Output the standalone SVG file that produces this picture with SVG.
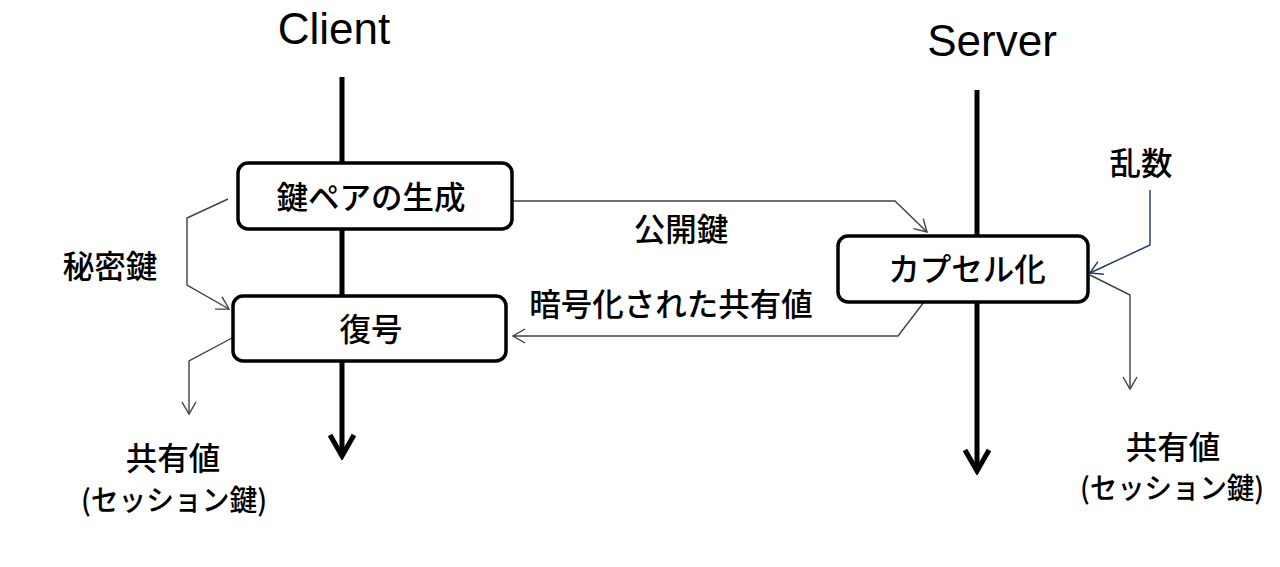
<svg xmlns="http://www.w3.org/2000/svg" width="1280" height="567" viewBox="0 0 1280 567">
  <defs>
    <style>
      .title { font-family: "Liberation Sans", Arial, sans-serif; font-size: 44px; fill: #000; text-anchor: middle; }
      .jp { font-family: "Noto Sans CJK JP", "Noto Sans", sans-serif; font-size: 31.5px; font-weight: 500; fill: #000; text-anchor: middle; }
      .jp2 { font-family: "Noto Sans CJK JP", "Noto Sans", sans-serif; font-size: 29px; font-weight: 500; fill: #000; text-anchor: middle; }
      .box { fill: #fff; stroke: #000; stroke-width: 3.5; }
      .life { fill: none; stroke: #000; stroke-width: 5; }
      .thin { fill: none; stroke: #404040; stroke-width: 1.4; }
      .navy { fill: none; stroke: #1f3864; stroke-width: 1.4; }
    </style>
    <marker id="thick" markerUnits="userSpaceOnUse" viewBox="-26 -16 30 32" markerWidth="30" markerHeight="32" refX="0" refY="0" orient="auto">
      <path d="M-21,-12 L0,0 L-21,12" fill="none" stroke="#000" stroke-width="5" stroke-linejoin="miter"/>
    </marker>
    <marker id="open" markerUnits="userSpaceOnUse" viewBox="-14 -9 16 18" markerWidth="16" markerHeight="18" refX="0" refY="0" orient="auto">
      <path d="M-12,-7 L0,0 L-12,7" fill="none" stroke="#404040" stroke-width="1.4"/>
    </marker>
    <marker id="openNavy" markerUnits="userSpaceOnUse" viewBox="-14 -9 16 18" markerWidth="16" markerHeight="18" refX="0" refY="0" orient="auto">
      <path d="M-12,-7 L0,0 L-12,7" fill="none" stroke="#1f3864" stroke-width="1.4"/>
    </marker>
  </defs>
  <rect width="1280" height="567" fill="#fff"/>

  <g id="connectors">
    <path class="life" d="M342,77 L342,456" marker-end="url(#thick)"/>
    <path class="life" d="M977,90 L977,471" marker-end="url(#thick)"/>
    <path class="thin" d="M228,199 L187,218 L187,285 L229,309" marker-end="url(#open)"/>
    <path class="thin" d="M232,338 L189,361 L189,414" marker-end="url(#open)"/>
    <path class="thin" d="M512,201 L895,201 L927,232" marker-end="url(#open)"/>
    <path class="thin" d="M924,302 L898,336 L513,336" marker-end="url(#open)"/>
    <path class="navy" d="M1150,190 L1150,245 L1090,273" marker-end="url(#openNavy)"/>
    <path class="thin" d="M1090,275 L1130,295 L1130,389" marker-end="url(#open)"/>
  </g>

  <g id="client-title"><text class="title" x="334" y="44">Client</text></g>
  <g id="server-title"><text class="title" x="992" y="56">Server</text></g>

  <g id="keygen">
    <rect class="box" x="238" y="163" width="274" height="66" rx="10"/>
    <text class="jp" x="371" y="209">鍵ペアの生成</text>
  </g>
  <g id="decrypt">
    <rect class="box" x="233" y="296" width="273" height="65" rx="10"/>
    <text class="jp" x="371" y="341">復号</text>
  </g>
  <g id="encap">
    <rect class="box" x="838" y="236" width="250" height="66" rx="10"/>
    <text class="jp" x="967" y="281">カプセル化</text>
  </g>

  <g id="label-secret"><text class="jp" x="110" y="278">秘密鍵</text></g>
  <g id="label-public"><text class="jp" x="681" y="241">公開鍵</text></g>
  <g id="label-encrypted"><text class="jp" x="671" y="316">暗号化された共有値</text></g>
  <g id="label-random"><text class="jp" x="1141" y="175">乱数</text></g>
  <g id="client-shared">
    <text class="jp" x="173" y="470">共有値</text>
    <text class="jp2" x="174" y="511" textLength="186" lengthAdjust="spacingAndGlyphs">(セッション鍵)</text>
  </g>
  <g id="server-shared">
    <text class="jp" x="1173" y="459">共有値</text>
    <text class="jp2" x="1172" y="499" textLength="184" lengthAdjust="spacingAndGlyphs">(セッション鍵)</text>
  </g>
</svg>
